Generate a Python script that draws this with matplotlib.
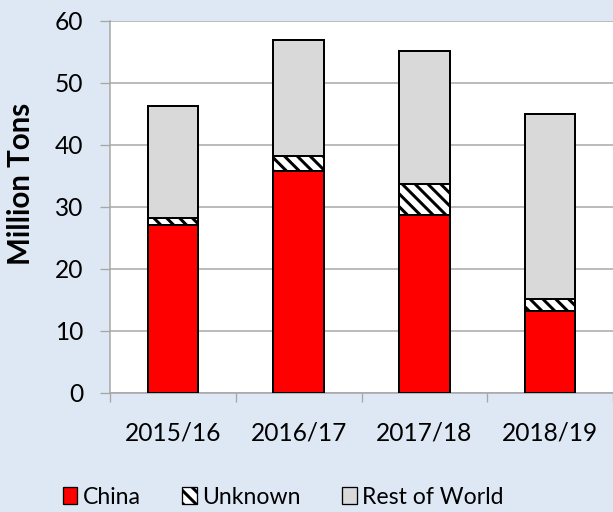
import matplotlib
matplotlib.use("Agg")
import matplotlib.pyplot as plt
import numpy as np

categories = ["2015/16", "2016/17", "2017/18", "2018/19"]
china = [27.0, 35.8, 28.7, 13.2]
unknown = [1.1, 2.3, 4.9, 1.9]
rest_of_world = [18.2, 18.8, 21.5, 29.9]
y_ticks = [0, 10, 20, 30, 40, 50, 60]

DPI = 77


def pt(px):
    return px * 72.0 / DPI


FS = pt(24.5)

plt.rcParams['font.family'] = ['Lato', 'DejaVu Sans']
plt.rcParams['hatch.linewidth'] = pt(3.0)
plt.rcParams['hatch.color'] = 'black'

bg = '#DEE8F4'
fig = plt.figure(figsize=(613 / DPI, 512 / DPI), dpi=DPI, facecolor=bg)
ax_left, ax_bottom_px, ax_top_px = 110, 392.7, 20.7
ax = fig.add_axes([ax_left / 613, (512 - ax_bottom_px) / 512, 1 - ax_left / 613,
                   (ax_bottom_px - ax_top_px) / 512])
ax.set_facecolor('white')

x = np.arange(len(categories))
w = 0.4
china_arr = np.array(china)
unk_arr = np.array(unknown)
row_arr = np.array(rest_of_world)
elw = pt(2.0)
ax.bar(x, china_arr, w, color='#FF0000', edgecolor='black', linewidth=elw, label='China', zorder=3)
ax.bar(x, unk_arr, w, bottom=china_arr, color='white', edgecolor='black', linewidth=elw,
       hatch='\\\\', label='Unknown', zorder=3)
ax.bar(x, row_arr, w, bottom=china_arr + unk_arr, color='#D9D9D9', edgecolor='black', linewidth=elw,
       label='Rest of World', zorder=3)

ax.set_xlim(-0.5, len(categories) - 0.5)
ax.set_ylim(0, 60)
ax.set_yticks(y_ticks)
ax.set_yticklabels([str(t) for t in y_ticks], fontsize=FS)
ax.set_xticks(x)
ax.set_xticklabels(categories, fontsize=FS)
ax.tick_params(axis='x', length=0, pad=pt(29))
ax.set_xticks(np.arange(len(categories) + 1) - 0.5, minor=True)
ax.tick_params(axis='x', which='minor', length=pt(9), color='#A6A6A6', width=pt(1.3))
ax.tick_params(axis='y', length=pt(10), color='#A6A6A6', width=pt(1.3), pad=pt(17))
ax.grid(axis='y', color='#A6A6A6', linewidth=pt(1.5), zorder=0)
for s in ['top', 'right']:
    ax.spines[s].set_visible(False)
for s in ['left', 'bottom']:
    ax.spines[s].set_color('#A6A6A6')
    ax.spines[s].set_linewidth(pt(1.5))

ax.set_ylabel('Million Tons', fontsize=pt(29.5), fontweight='bold')
ax.yaxis.set_label_coords((35 - ax_left) / (613 - ax_left), (ax_bottom_px - 184) / (ax_bottom_px - ax_top_px))

handles, labels = ax.get_legend_handles_labels()
leg = fig.legend(handles, labels, loc='center', bbox_to_anchor=(283.5 / 613, (512 - 497) / 512), ncol=3,
                 frameon=False, fontsize=pt(23), handlelength=0.62, handleheight=0.7,
                 handletextpad=0.25, columnspacing=1.8, borderaxespad=0, borderpad=0)
for h in leg.legend_handles:
    h.set_linewidth(pt(1.3))

fig.savefig('out.png', dpi=DPI, facecolor=bg)
